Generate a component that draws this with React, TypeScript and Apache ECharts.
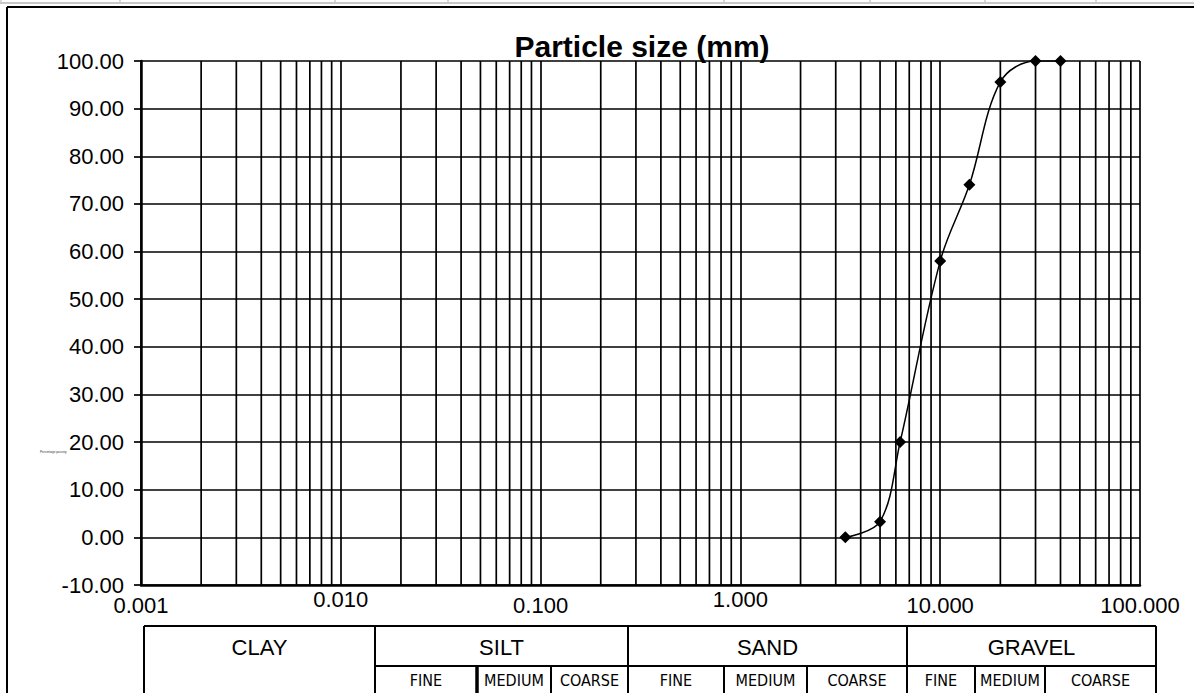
import React, { useEffect, useRef } from "react";
import * as echarts from "echarts";

// ---- data ----
const sieveSizes = [3.35, 5, 6.3, 10, 14, 20, 30, 40];
const percentPassing = [0, 3.3, 20, 58, 74, 95.6, 100, 100];
const xTickLabels = ["0.001", "0.010", "0.100", "1.000", "10.000", "100.000"];
const lowLabels = ["0.001", "0.100", "10.000", "100.000"];
const decades = [0.001, 0.01, 0.1, 1, 10];
const minorMultipliers = [2, 3, 4, 5, 6, 7, 8, 9];
const mainClasses = ["CLAY", "SILT", "SAND", "GRAVEL"];
const subClasses = ["FINE", "MEDIUM", "COARSE"];

const FONT = "'Liberation Sans', Arial, sans-serif";
const NARROW = "'Liberation Sans Narrow', 'Arial Narrow', 'DejaVu Sans Condensed', 'Liberation Sans', sans-serif";

export default function App() {
  const ref = useRef<HTMLDivElement>(null);

  useEffect(() => {
    if (!ref.current) return;
    const chart = echarts.init(ref.current, null, { renderer: "svg" });

    const minorValues: number[][] = [];
    decades.forEach((d) =>
      minorMultipliers.forEach((m) => minorValues.push([+(d * m).toPrecision(3)]))
    );

    // table geometry (pixels)
    const tTop = 626, tMid = 666, tBot = 700;
    const tLeft = 144, tRight = 1156;
    const mainBounds = [144, 375, 628, 907, 1156];
    const subBounds = [
      [375, 477, 551, 628],
      [628, 724, 807, 907],
      [907, 975, 1045, 1156],
    ];
    const lineStyle = { stroke: "#000", lineWidth: 2 };
    const graphics: any[] = [];

    // top spreadsheet fragment
    graphics.push({ type: "line", shape: { x1: 0, y1: 3, x2: 1194, y2: 3 }, style: { stroke: "#c8c8c8", lineWidth: 2 } });
    [1, 120, 335, 448, 724, 870, 985, 1096].forEach((x) =>
      graphics.push({ type: "line", shape: { x1: x, y1: 0, x2: x, y2: 4 }, style: { stroke: "#c8c8c8", lineWidth: 1.5 } })
    );
    // outer chart border
    graphics.push({ type: "line", shape: { x1: 7, y1: 7, x2: 1194, y2: 7 }, style: { stroke: "#000", lineWidth: 2 } });
    graphics.push({ type: "line", shape: { x1: 7, y1: 7, x2: 7, y2: 693 }, style: { stroke: "#000", lineWidth: 2 } });

    // title
    graphics.push({
      type: "text", x: 642, y: 46,
      style: { text: "Particle size (mm)", font: `bold 30px ${FONT}`, fill: "#000", align: "center", verticalAlign: "middle" },
    });
    // tiny axis title remnant
    graphics.push({
      type: "text", x: 40, y: 452,
      style: { text: "Percentage passing", font: `3px ${FONT}`, fill: "#333", align: "left", verticalAlign: "middle" },
    });

    // table
    graphics.push({ type: "line", shape: { x1: tLeft, y1: tTop, x2: tRight, y2: tTop }, style: lineStyle });
    graphics.push({ type: "line", shape: { x1: 375, y1: tMid, x2: tRight, y2: tMid }, style: lineStyle });
    mainBounds.forEach((x) =>
      graphics.push({ type: "line", shape: { x1: x, y1: tTop, x2: x, y2: tBot }, style: lineStyle })
    );
    subBounds.forEach((b, gi) => {
      [b[1], b[2]].forEach((x, k) =>
        graphics.push({
          type: "line", shape: { x1: x, y1: tMid, x2: x, y2: tBot },
          style: { stroke: "#000", lineWidth: gi === 0 && k === 0 ? 3.5 : 2 },
        })
      );
      for (let i = 0; i < 3; i++) {
        graphics.push({
          type: "text", x: (b[i] + b[i + 1]) / 2, y: 680,
          style: { text: subClasses[i], font: `16px ${NARROW}`, fill: "#000", align: "center", verticalAlign: "middle" },
        });
      }
    });
    mainClasses.forEach((c, i) =>
      graphics.push({
        type: "text", x: (mainBounds[i] + mainBounds[i + 1]) / 2, y: 647,
        style: { text: c, font: `22px ${FONT}`, fill: "#000", align: "center", verticalAlign: "middle" },
      })
    );

    const option: any = {
      animation: false,
      backgroundColor: "#fff",
      grid: { left: 141, right: 54, top: 61, bottom: 108, containLabel: false },
      xAxis: {
        type: "log",
        logBase: 10,
        min: 0.001,
        max: 100,
        axisLine: { show: true, onZero: false, lineStyle: { color: "#000", width: 2.5 } },
        axisTick: { show: false },
        splitLine: { show: true, lineStyle: { color: "#000", width: 1.7 } },
        axisLabel: {
          show: true,
          margin: 3,
          showMinLabel: true,
          showMaxLabel: true,
          formatter: (v: number, i: number) => {
            const t = xTickLabels[i] ?? v.toFixed(3);
            return lowLabels.includes(t) ? `{lo|${t}}` : `{hi|${t}}`;
          },
          rich: {
            lo: { fontSize: 22, fontFamily: FONT, color: "#000", padding: [6, 0, 0, 0] },
            hi: { fontSize: 22, fontFamily: FONT, color: "#000", padding: [0, 0, 6, 0] },
          },
        },
      },
      yAxis: {
        type: "value",
        min: -10,
        max: 100,
        interval: 10,
        axisLine: { show: true, onZero: false, lineStyle: { color: "#000", width: 2.5 } },
        axisTick: { show: true, inside: false, length: 7, lineStyle: { color: "#000", width: 1.7 } },
        splitLine: { show: true, lineStyle: { color: "#000", width: 1.7 } },
        axisLabel: {
          margin: 17,
          fontSize: 22,
          fontFamily: FONT,
          color: "#000",
          formatter: (v: number) => v.toFixed(2),
        },
      },
      series: [
        {
          type: "custom",
          z: 1,
          silent: true,
          data: minorValues,
          encode: { x: 0 },
          renderItem: (params: any, api: any) => {
            const v = api.value(0);
            const top = api.coord([v, 100]);
            const bot = api.coord([v, -10]);
            return {
              type: "line",
              shape: { x1: top[0], y1: top[1], x2: bot[0], y2: bot[1] },
              style: { stroke: "#000", lineWidth: 1.7 },
            };
          },
        },
        {
          type: "line",
          z: 5,
          data: sieveSizes.map((s, i) => [s, percentPassing[i]]),
          smooth: 0.35,
          symbol: "diamond",
          symbolSize: 12,
          itemStyle: { color: "#000" },
          lineStyle: { color: "#000", width: 1.5 },
        },
      ],
      graphic: graphics,
    };

    chart.setOption(option);
    return () => chart.dispose();
  }, []);

  return (
    <div
      ref={ref}
      style={{ position: "absolute", left: 0, top: 0, width: 1194, height: 693, background: "#fff" }}
    />
  );
}
